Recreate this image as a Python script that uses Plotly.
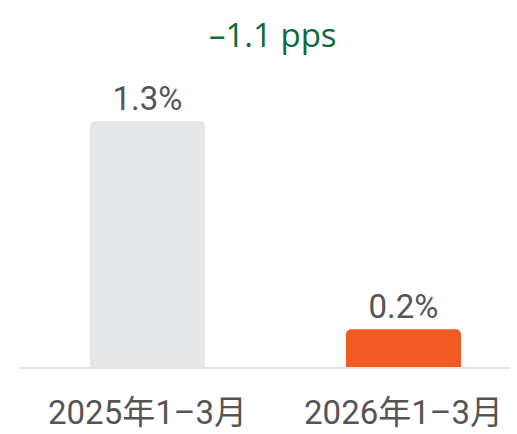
import plotly.graph_objects as go

categories = ["2025年1–3月", "2026年1–3月"]
values = [1.3, 0.2]
value_labels = ["1.3%", "0.2%"]
bar_colors = ["#e5e6e8", "#f15a22"]
title_text = "–1.1 pps"

FONT = "Roboto, Noto Sans CJK SC"

fig = go.Figure(go.Bar(
    x=categories,
    y=values,
    text=value_labels,
    textposition="outside",
    textfont=dict(family=FONT, size=33, color="#555555"),
    marker=dict(color=bar_colors, line=dict(width=0)),
    width=0.449,
    cliponaxis=False,
    hoverinfo="skip",
))

fig.update_layout(
    width=517, height=434,
    margin=dict(l=12, r=10, t=52, b=75),
    paper_bgcolor="white", plot_bgcolor="white",
    showlegend=False,
    barcornerradius=5,
    uniformtext=dict(mode=False),
    annotations=[dict(
        text=title_text, xref="paper", yref="paper",
        x=(265 - 12) / 495, y=1.0, yshift=26, xanchor="center", yanchor="middle",
        showarrow=False,
        font=dict(family="Open Sans, Roboto", size=33, color="#0b6b3a"),
    )],
)
fig.update_xaxes(
    range=[-0.498, 1.4355],
    showgrid=False, zeroline=False,
    showline=True, linecolor="#e3e3e3", linewidth=2,
    ticks="", tickfont=dict(family=FONT, size=33, color="#555555"),
    ticklabelstandoff=15,
)
fig.update_yaxes(
    range=[0, 1.624], visible=False, showgrid=False, zeroline=False,
)

fig.write_html("out.html")
